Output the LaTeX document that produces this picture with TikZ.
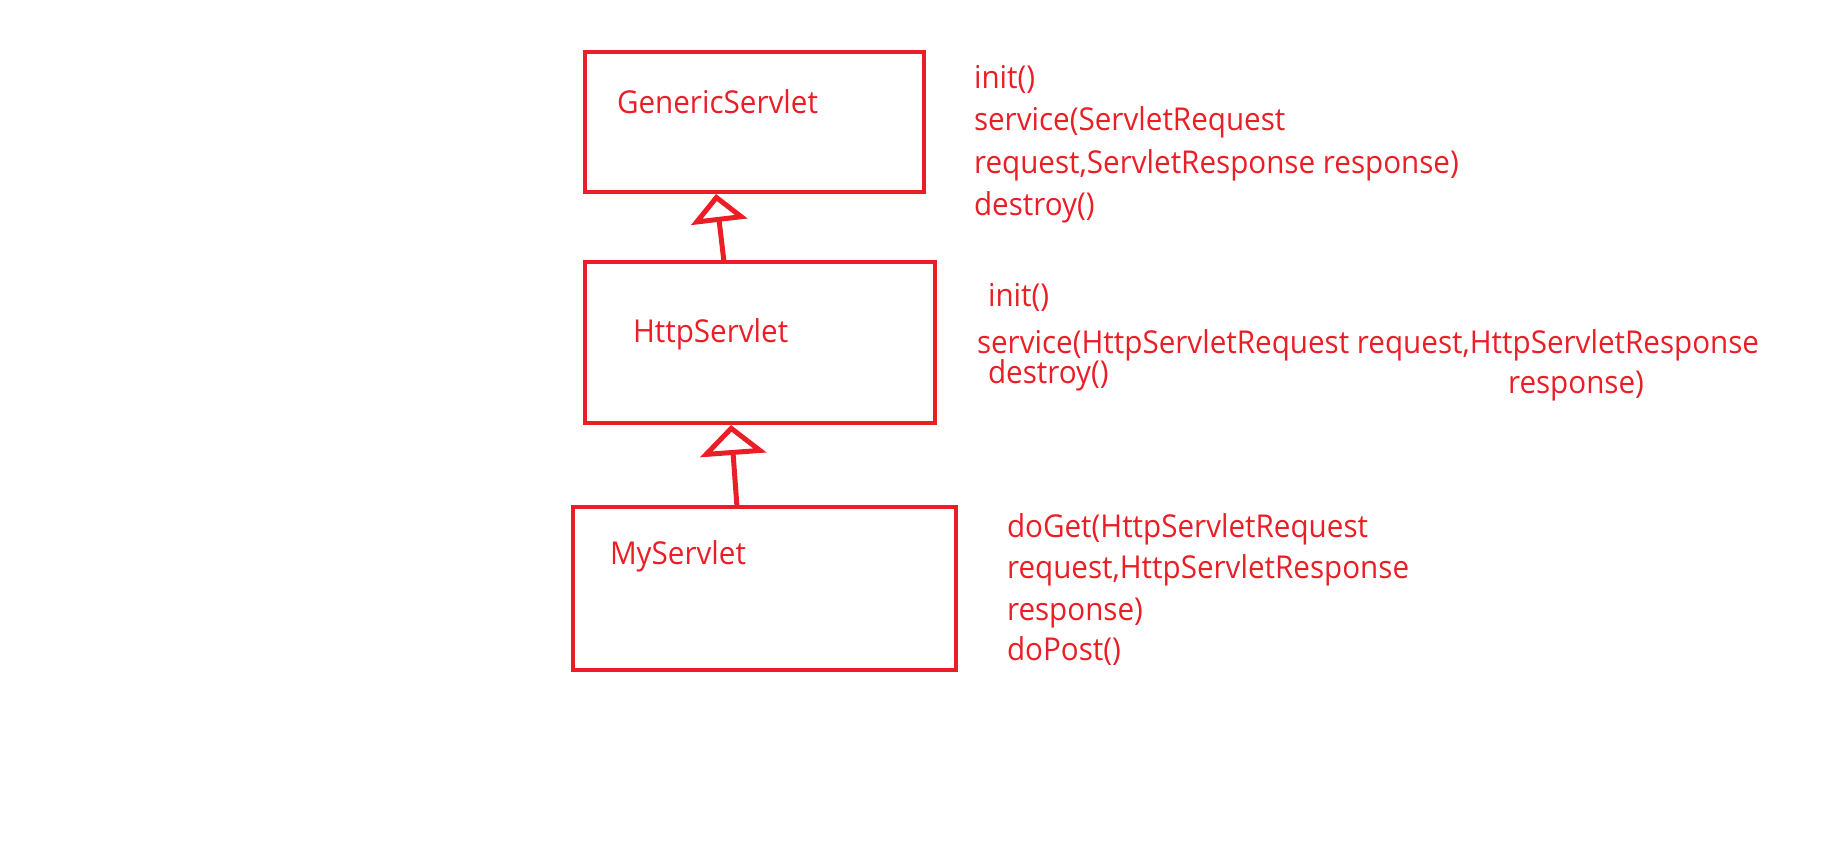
\documentclass[tikz,border=0pt]{standalone}
\usepackage{fontspec}
\setmainfont{Open Sans}[FakeStretch=0.94]
\usetikzlibrary{arrows.meta,calc}
\definecolor{pred}{RGB}{234,30,38}
\begin{document}
\begin{tikzpicture}[x=1pt,y=-1pt,
  box/.style={draw=pred,line width=4.5pt,rectangle,inner sep=0pt,outer sep=0pt},
  txt/.style={anchor=base west,inner sep=0pt,outer sep=0pt,text=pred,font=\fontsize{31.5}{38}\selectfont},
  inhA/.style={draw=pred,line width=5pt,-{Triangle[open,length=28pt,width=56pt,line join=miter]}},
  inhB/.style={draw=pred,line width=5pt,-{Triangle[open,length=30pt,width=66pt,line join=miter]}}]
\useasboundingbox (0,0) rectangle (1831,846);
% boxes
\node[box,minimum width=339pt,minimum height=140pt] (box1) at (754.5,122) {};
\node[box,minimum width=350pt,minimum height=161pt] (box2) at (760,342.5) {};
\node[box,minimum width=383pt,minimum height=163pt] (box3) at (764.5,588.5) {};
% box labels
\node[txt] (l1) at (617,113) {GenericServlet};
\node[txt] (l2) at (633,342) {HttpServlet};
\node[txt] (l3) at (610,564) {MyServlet};
% inheritance arrows
\draw[inhA] ([xshift=-36pt]box2.north) -- ([xshift=-38.5pt,yshift=-2pt]box1.south);
\draw[inhB] ([xshift=-27.5pt]box3.north) -- ([xshift=-29pt,yshift=-2pt]box2.south);
% method lists
\node[txt] (g1) at (974,88) {init()};
\node[txt] (g2) at (974,130) {service(ServletRequest};
\node[txt] (g3) at (974,173) {request,ServletResponse response)};
\node[txt] (g4) at (974,215) {destroy()};
\node[txt] (h1) at (988,306) {init()};
\node[txt] (h2) at (977,353) {service(HttpServletRequest request,HttpServletResponse};
\node[txt] (h3) at (988,383) {destroy()};
\node[txt] (h4) at (1508,393) {response)};
\node[txt] (m1) at (1007,537) {doGet(HttpServletRequest};
\node[txt] (m2) at (1007,578) {request,HttpServletResponse};
\node[txt] (m3) at (1007,620) {response)};
\node[txt] (m4) at (1007,660) {doPost()};
\end{tikzpicture}
\end{document}
